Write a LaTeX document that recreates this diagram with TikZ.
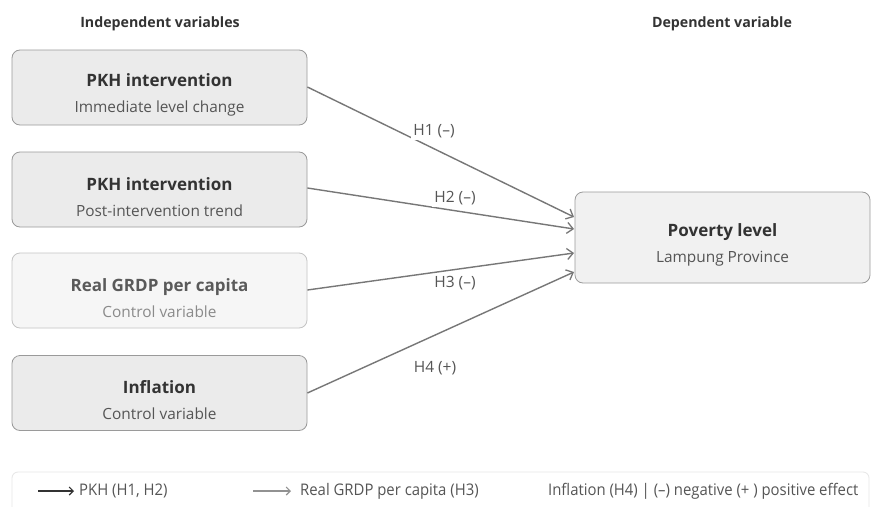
\documentclass[tikz,border=0pt]{standalone}
\usepackage{fontspec}
\setmainfont{Open Sans}
\newfontfamily\legfont[FakeStretch=0.93]{Open Sans}
\usetikzlibrary{arrows.meta}
\definecolor{boxfill}{HTML}{EBEBEB}
\definecolor{boxline}{HTML}{9A9A9A}
\definecolor{litefill}{HTML}{F6F6F6}
\definecolor{liteline}{HTML}{C4C4C4}
\definecolor{txtdark}{HTML}{333333}
\definecolor{txtsub}{HTML}{555555}
\definecolor{txtlite}{HTML}{5A5A5A}
\definecolor{txtlitesub}{HTML}{8A8A8A}
\definecolor{arrowc}{HTML}{777777}
\definecolor{legline}{HTML}{E6E6E6}
\tikzset{
  varbox/.style={draw=boxline, fill=boxfill, rounded corners=8pt, line width=0.8pt,
    minimum width=295pt, minimum height=75pt, inner sep=0pt},
  litebox/.style={varbox, draw=liteline, fill=litefill},
  depbox/.style={varbox, fill=boxfill!70!white, minimum height=91pt},
  boxtext/.style={align=center, inner sep=0pt, yshift=-7.5pt, font=\fontsize{17}{20}\selectfont},
  conn/.style={draw=arrowc, line width=1.4pt, -{Straight Barb[length=6pt,width=11pt,line width=1.3pt]}},
  hlab/.style={fill=white, inner sep=2pt, text=txtsub, font=\fontsize{15.5}{18}\selectfont},
  head/.style={text=txtdark, font=\fontsize{14.2}{17}\selectfont\bfseries},
  legtext/.style={text=txtsub, font=\legfont\fontsize{16}{19}\selectfont, anchor=west, inner sep=0pt}
}
\newcommand{\boxtxt}[4]{{\color{#3}\bfseries #1}\\[6pt]{\color{#4}\fontsize{15.4}{18}\selectfont #2}}
\begin{document}
\begin{tikzpicture}[x=1pt,y=-1pt]
\useasboundingbox[fill=white] (0,0) rectangle (874,506);
\node[head] (hi) at (160,24) {Independent variables};
\node[head] (hd) at (722,24) {Dependent variable};

\node[varbox] (b1) at (159.5,87.5) {};
\node[varbox] (b2) at (159.5,189.5) {};
\node[litebox] (b3) at (159.5,290.5) {};
\node[varbox] (b4) at (159.5,393) {};
\node[depbox] (p) at (722.5,237.5) {};

\node[boxtext] (b1t) at (b1.center) {\boxtxt{PKH intervention}{Immediate level change}{txtdark}{txtsub}};
\node[boxtext] (b2t) at (b2.center) {\boxtxt{PKH intervention}{Post-intervention trend}{txtdark}{txtsub}};
\node[boxtext] (b3t) at (b3.center) {\boxtxt{Real GRDP per capita}{Control variable}{txtlite}{txtlitesub}};
\node[boxtext] (b4t) at (b4.center) {\boxtxt{Inflation}{Control variable}{txtdark}{txtsub}};
\node[boxtext] (pt) at (p.center) {\boxtxt{Poverty level}{Lampung Province}{txtdark}{txtsub}};

\coordinate (e1) at (574,217);
\coordinate (e2) at (574,229);
\coordinate (e3) at (574,253);
\coordinate (e4) at (574,272);

\draw[conn] (b1.east |- 0,87) -- (e1);
\draw[conn] (b2.east |- 0,188) -- (e2);
\draw[conn] (b3.east |- 0,290) -- (e3);
\draw[conn] (b4.east |- 0,393) -- (e4);

\node[hlab] (l1) at (434,131) {H1 (–)};
\node[hlab] (l2) at (455,198) {H2 (–)};
\node[hlab] (l3) at (455,283) {H3 (–)};
\node[hlab] (l4) at (435,368) {H4 (+)};

\draw[draw=legline, fill=white, line width=0.8pt, rounded corners=6pt] (12,472) rectangle (869,515);
\coordinate (a1s) at (38,491);
\coordinate (a1e) at (74,491);
\coordinate (a2s) at (253,491);
\coordinate (a2e) at (291,491);
\draw[draw=txtdark, line width=1.2pt, -{Straight Barb[length=4pt,width=8pt,line width=1.1pt]}] (a1s) -- (a1e);
\draw[draw=arrowc!80!white, line width=1.2pt, -{Straight Barb[length=4pt,width=8pt,line width=1.1pt]}] (a2s) -- (a2e);
\node[legtext] (t1) at (79,491) {PKH (H1, H2)};
\node[legtext] (t2) at (300,491) {Real GRDP per capita (H3)};
\node[legtext] (t3) at (548,491) {Inflation (H4) | (–) negative (+ ) positive effect};
\end{tikzpicture}
\end{document}
